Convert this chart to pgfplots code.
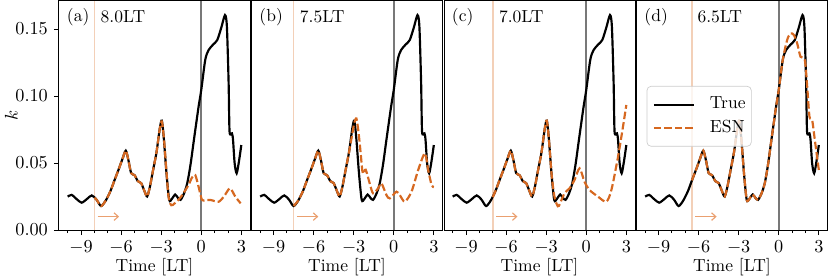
\documentclass[border=0pt]{standalone}
\usepackage{pgfplots}
\pgfplotsset{compat=1.18}
\usepackage{pgfplotstable}
\usetikzlibrary{arrows.meta}
\definecolor{esn}{RGB}{214,104,32}
\definecolor{esnlight}{RGB}{243,208,184}
\definecolor{arrowc}{RGB}{234,160,112}
\definecolor{zeroline}{RGB}{120,120,120}

\pgfplotstableread{
t k
-10.0 0.0249
-9.7 0.0262
-9.3 0.0228
-8.95 0.0204
-8.55 0.0232
-8.2 0.0258
-7.85 0.0228
-7.5 0.0179
-7.15 0.0220
-6.8 0.0290
-6.5 0.0370
-6.2 0.0448
-5.9 0.0530
-5.65 0.0592
-5.45 0.0520
-5.25 0.0425
-5.0 0.0410
-4.75 0.0365
-4.5 0.0350
-4.25 0.0290
-4.05 0.0250
-3.85 0.0320
-3.6 0.0450
-3.35 0.0580
-3.1 0.0760
-2.95 0.0816
-2.8 0.0680
-2.6 0.0420
-2.4 0.0225
-2.2 0.0232
-1.95 0.0265
-1.75 0.0240
-1.55 0.0225
-1.3 0.0270
-1.05 0.0348
-0.8 0.0490
-0.55 0.0672
-0.2 0.0920
0.0 0.1045
0.3 0.1270
0.55 0.1343
0.9 0.1385
1.2 0.1418
1.5 0.1510
1.78 0.1604
1.92 0.1517
2.05 0.1095
2.12 0.0734
2.30 0.0721
2.38 0.0672
2.5 0.0498
2.65 0.0423
2.82 0.0510
3.0 0.0634
}\trueT

\pgfplotstableread{
t k
-8.0 0.0240
-7.85 0.0228
-7.5 0.0179
-7.15 0.0220
-6.8 0.0290
-6.5 0.0370
-6.2 0.0448
-5.9 0.0530
-5.65 0.0592
-5.45 0.0520
-5.25 0.0425
-5.0 0.0410
-4.75 0.0365
-4.5 0.0350
-4.25 0.0290
-4.05 0.0250
-3.85 0.0320
-3.6 0.0450
-3.35 0.0580
-3.1 0.0760
-2.95 0.0810
-2.8 0.0690
-2.6 0.0430
-2.45 0.0250
-2.25 0.0185
-2.0 0.0198
-1.6 0.0237
-1.3 0.0280
-0.95 0.0336
-0.7 0.0390
-0.45 0.0410
-0.2 0.0323
0.05 0.0226
0.3 0.0222
0.7 0.0224
1.3 0.0211
1.7 0.0250
2.15 0.0311
2.55 0.0249
2.95 0.0199
}\esnA

\pgfplotstableread{
t k
-7.5 0.0179
-7.15 0.0220
-6.8 0.0290
-6.5 0.0370
-6.2 0.0448
-5.9 0.0530
-5.65 0.0592
-5.45 0.0520
-5.25 0.0425
-5.0 0.0410
-4.75 0.0365
-4.5 0.0350
-4.25 0.0290
-4.05 0.0250
-3.85 0.0320
-3.6 0.0450
-3.35 0.0580
-3.1 0.0720
-2.95 0.0800
-2.8 0.0833
-2.65 0.0740
-2.5 0.0597
-2.35 0.0440
-2.25 0.0420
-2.1 0.0450
-1.8 0.0348
-1.55 0.0274
-1.17 0.0311
-0.92 0.0348
-0.55 0.0261
-0.3 0.0236
0.2 0.0286
0.45 0.0261
0.83 0.0211
1.33 0.0286
1.83 0.0448
2.33 0.0572
2.58 0.0448
2.83 0.0336
3.0 0.0320
}\esnB

\pgfplotstableread{
t k
-7.0 0.0245
-6.8 0.0290
-6.5 0.0370
-6.2 0.0448
-5.9 0.0530
-5.65 0.0592
-5.45 0.0520
-5.25 0.0425
-5.0 0.0410
-4.75 0.0365
-4.5 0.0350
-4.25 0.0290
-4.05 0.0250
-3.85 0.0320
-3.6 0.0450
-3.35 0.0580
-3.1 0.0760
-2.95 0.0816
-2.8 0.0680
-2.6 0.0420
-2.4 0.0260
-2.2 0.0190
-2.05 0.0180
-1.63 0.0274
-1.25 0.0311
-0.88 0.0373
-0.5 0.0460
-0.13 0.0360
0.25 0.0298
0.88 0.0249
1.5 0.0211
1.88 0.0298
2.38 0.0547
2.75 0.0771
3.0 0.0933
}\esnC

\pgfplotstableread{
t k
-6.5 0.0370
-6.2 0.0448
-5.9 0.0530
-5.65 0.0592
-5.45 0.0520
-5.25 0.0425
-5.0 0.0410
-4.75 0.0365
-4.5 0.0350
-4.25 0.0290
-4.05 0.0250
-3.85 0.0320
-3.6 0.0450
-3.35 0.0580
-3.1 0.0760
-2.95 0.0816
-2.8 0.0680
-2.6 0.0420
-2.4 0.0225
-2.2 0.0232
-1.95 0.0265
-1.75 0.0240
-1.55 0.0225
-1.3 0.0270
-1.05 0.0348
-0.8 0.0490
-0.55 0.0672
-0.2 0.0920
0.0 0.1045
0.3 0.1270
0.63 0.1418
0.88 0.1468
1.13 0.1455
1.38 0.1393
1.63 0.1293
1.95 0.1269
2.13 0.1070
2.30 0.0846
2.50 0.0821
2.70 0.0672
3.0 0.0448
}\esnD

\tikzset{lab/.style={anchor=west, inner sep=0pt, font=\fontsize{10.5}{12.6}\selectfont}}

\pgfplotsset{
  panel/.style={
    scale only axis, width=114.6pt, height=137.4pt,
    xmin=-10.65, xmax=3.65, ymin=0, ymax=0.1709,
    xtick={-9,-6,-3,0,3},
    minor xtick={-10,-8,-7,-5,-4,-2,-1,1,2},
    ytick={0,0.05,0.10,0.15},
    scaled y ticks=false,
    yticklabel style={/pgf/number format/.cd,fixed,fixed zerofill,precision=2},
    tick align=outside, tick pos=left,
    major tick length=3pt, minor tick length=1.8pt,
    every tick/.style={black, line width=0.5pt},
    axis line style={line width=0.6pt},
    xlabel={Time [LT]},
    xlabel style={at={(axis description cs:0.5,0)}, anchor=center, yshift=-22pt,
      font=\fontsize{10.5}{12.6}\selectfont},
    ticklabel style={font=\fontsize{10.5}{12.6}\selectfont},
    clip=true,
  },
  truestyle/.style={black, line width=1.3pt, smooth, tension=0.45},
  esnstyle/.style={esn, line width=1.3pt, dash pattern=on 4.5pt off 1.8pt, smooth, tension=0.45},
  startline/.style={esnlight, line width=0.9pt, forget plot},
  zline/.style={zeroline, line width=1pt, forget plot},
  arr/.style={arrowc, line width=0.7pt, -{Straight Barb[length=2.5pt,width=4.5pt]}, forget plot},
}

\begin{document}
\fontsize{10.5}{12.6}\selectfont
\begin{tikzpicture}
\path[use as bounding box] (-35.4pt,-28.2pt) rectangle (462.6pt,138pt);

% (a)
\begin{axis}[panel, at={(0pt,0pt)}, ylabel={$k$},
  ylabel style={at={(axis description cs:-0.25,0.5)}, anchor=center, font=\fontsize{10.5}{12.6}\selectfont}]
\addplot[startline] coordinates {(-8,0) (-8,0.1709)};
\addplot[zline] coordinates {(0,0) (0,0.1709)};
\addplot[arr] coordinates {(-7.75,0.01) (-6.15,0.01)};
\addplot[truestyle] table[x=t,y=k] {\trueT};
\addplot[esnstyle] table[x=t,y=k] {\esnA};
\node[lab] at (rel axis cs:0.04,0.93) {(a)};
\node[lab] at (axis cs:-7.55,0.1595) {8.0LT};
\end{axis}

% (b)
\begin{axis}[panel, at={(115.5pt,0pt)}, ytick=\empty]
\addplot[startline] coordinates {(-7.5,0) (-7.5,0.1709)};
\addplot[zline] coordinates {(0,0) (0,0.1709)};
\addplot[arr] coordinates {(-7.25,0.01) (-5.65,0.01)};
\addplot[truestyle] table[x=t,y=k] {\trueT};
\addplot[esnstyle] table[x=t,y=k] {\esnB};
\node[lab] at (rel axis cs:0.04,0.93) {(b)};
\node[lab] at (axis cs:-7.05,0.1595) {7.5LT};
\end{axis}

% (c)
\begin{axis}[panel, at={(231pt,0pt)}, ytick=\empty]
\addplot[startline] coordinates {(-7,0) (-7,0.1709)};
\addplot[zline] coordinates {(0,0) (0,0.1709)};
\addplot[arr] coordinates {(-6.75,0.01) (-5.15,0.01)};
\addplot[truestyle] table[x=t,y=k] {\trueT};
\addplot[esnstyle] table[x=t,y=k] {\esnC};
\node[lab] at (rel axis cs:0.04,0.93) {(c)};
\node[lab] at (axis cs:-6.55,0.1595) {7.0LT};
\end{axis}

% (d)
\begin{axis}[panel, at={(346.5pt,0pt)}, ytick=\empty,
  legend style={at={(0.053,0.629)}, anchor=north west, draw=black!20, fill=white,
    fill opacity=0.8, text opacity=1, rounded corners=2.5pt,
    inner xsep=3.5pt, inner ysep=5pt, row sep=2pt,
    nodes={inner sep=0pt, text height=8.5pt, text depth=3.5pt},
    font=\fontsize{10.5}{12.6}\selectfont,
    /tikz/every odd column/.append style={column sep=9pt}},
  legend cell align=left,
  legend image code/.code={\draw[#1] (0pt,0pt) -- (24pt,0pt);}]
\addplot[startline] coordinates {(-6.5,0) (-6.5,0.1709)};
\addplot[zline] coordinates {(0,0) (0,0.1709)};
\addplot[arr] coordinates {(-6.25,0.01) (-4.65,0.01)};
\addplot[truestyle] table[x=t,y=k] {\trueT};
\addlegendentry{True}
\addplot[esnstyle] table[x=t,y=k] {\esnD};
\addlegendentry{ESN}
\node[lab] at (rel axis cs:0.04,0.93) {(d)};
\node[lab] at (axis cs:-6.1,0.1595) {6.5LT};
\end{axis}
\end{tikzpicture}
\end{document}
